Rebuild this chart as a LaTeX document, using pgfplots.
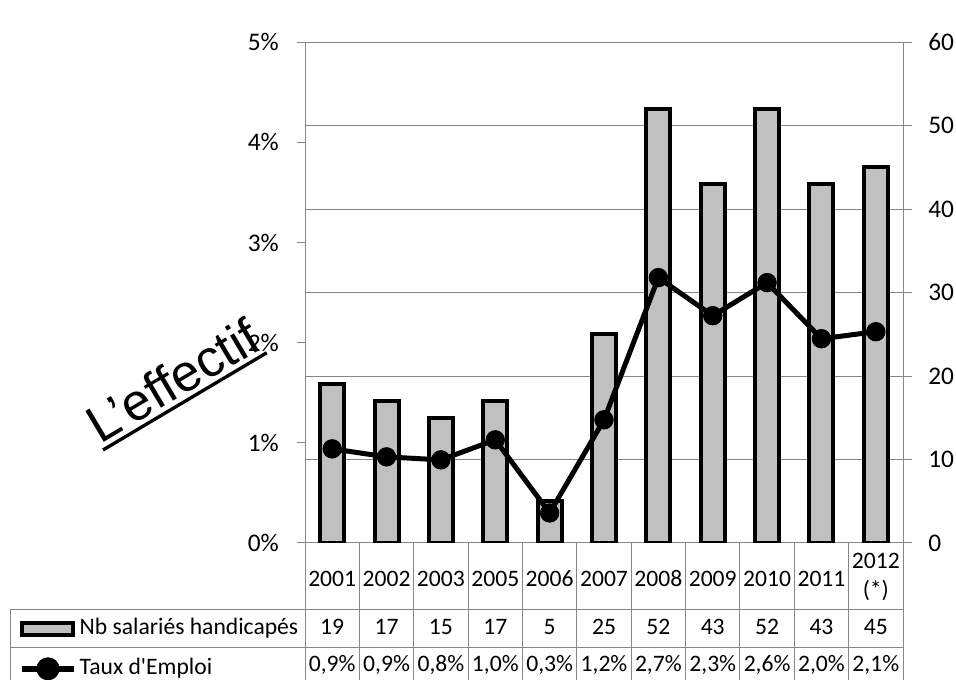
\documentclass[border=0pt]{standalone}
\usepackage{fontspec}
\setmainfont{Carlito}
\newfontfamily\arialfont{Liberation Sans}
\usepackage{pgfplots}
\usepackage{pgfplotstable}
\pgfplotsset{compat=1.18}
\usetikzlibrary{calc}
\definecolor{gridgray}{RGB}{134,134,134}
\definecolor{barfill}{RGB}{192,192,192}
\newcommand{\axisfont}{\fontsize{19pt}{23pt}\selectfont}
\newcommand{\tabfont}{\fontsize{17.7pt}{21.75pt}\selectfont}
\newcommand{\efffont}{\arialfont\fontsize{39pt}{44pt}\selectfont}

\pgfplotstableread{
x nb taux
0 19 0.94
1 17 0.86
2 15 0.83
3 17 1.03
4 5 0.30
5 25 1.23
6 52 2.65
7 43 2.27
8 52 2.60
9 43 2.04
10 45 2.11
}\datatable

\begin{document}
\begin{tikzpicture}
\path[use as bounding box, fill=white] (0,0) rectangle (717pt,510pt);
% data table grid and rows (pixel coordinates from the top left)
\begin{scope}[x=0.75pt, y=-0.75pt, yshift=510pt]
  \draw[gridgray, line width=0.75pt] (297,543) -- (912,543);
  \foreach \k in {0,...,11} {
    \draw[gridgray, line width=0.75pt] ({305+\k*54.3636},543) -- ({305+\k*54.3636},680);
  }
  \draw[gridgray, line width=0.75pt] (10,610) -- (903,610) (10,648) -- (903,648) (10,610) -- (10,680);
  \foreach \v [count=\i from 0] in {19,17,15,17,5,25,52,43,52,43,45} {
    \node[font=\tabfont, anchor=base, inner sep=0pt] at ({305+(\i+0.5)*54.3636},635) {\v};
  }
  \foreach \v [count=\i from 0] in {{0,9\%},{0,9\%},{0,8\%},{1,0\%},{0,3\%},{1,2\%},{2,7\%},{2,3\%},{2,6\%},{2,0\%},{2,1\%}} {
    \node[font=\tabfont, anchor=base, inner sep=0pt] at ({305+(\i+0.5)*54.3636},671.7) {\v};
  }
\end{scope}

% bars on the right axis
\begin{axis}[
  at={(228.75pt,102.75pt)}, anchor=south west,
  scale only axis, width=448.5pt, height=375.5pt,
  xmin=-0.5, xmax=10.5, ymin=0, ymax=60,
  axis y line*=right, axis x line*=bottom,
  x axis line style={draw=none},
  y axis line style={draw=gridgray, line width=0.75pt, -},
  xtick={0,...,10},
  xticklabels={2001,2002,2003,2005,2006,2007,2008,2009,2010,2011,{\raisebox{13.8pt}{\begin{tabular}[t]{@{}c@{}}2012\\(*)\end{tabular}}}},
  xticklabel style={font=\tabfont, anchor=base, inner sep=0pt, yshift=-26pt},
  xtick style={draw=none},
  ytick={0,10,...,60},
  yticklabels={0,10,20,30,40,50,60},
  yticklabel style={font=\axisfont, anchor=west, inner sep=0pt, xshift=12pt},
  ytick style={draw=gridgray, line width=0.75pt},
  tick align=outside, major tick length=6.75pt,
  ymajorgrids, grid style={draw=gridgray, line width=0.75pt},
]
\addplot[ybar, bar width=18pt, fill=barfill, draw=black, line width=3pt] table[x=x, y=nb]{\datatable};
\end{axis}

% line on the left axis
\begin{axis}[
  at={(228.75pt,102.75pt)}, anchor=south west,
  scale only axis, width=448.5pt, height=375.5pt,
  xmin=-0.5, xmax=10.5, ymin=0, ymax=5,
  axis y line*=left, axis x line=none,
  y axis line style={draw=gridgray, line width=0.75pt, -},
  ytick={0,...,5},
  yticklabels={0\%,1\%,2\%,3\%,4\%,5\%},
  yticklabel style={font=\axisfont, anchor=east, inner sep=0pt, xshift=-13.5pt},
  ytick style={draw=gridgray, line width=0.75pt},
  tick align=outside, major tick length=6pt,
  legend cell align=left,
  legend style={at={(axis description cs:-0.47826,-0.1544)}, anchor=north west,
    draw=none, fill=none, inner sep=0pt, outer sep=0pt,
    row sep=14.75pt, column sep=2pt, font=\tabfont,
    nodes={inner sep=0pt, text height=11pt, text depth=2pt}},
]
\addlegendimage{legend image code/.code={\draw[fill=barfill, draw=black, line width=3pt] (0pt,-4.5pt) rectangle (38.25pt,4.5pt);}}
\addlegendentry{Nb salariés handicapés}
\addplot[black, line width=3.75pt, line join=round, mark=*, mark size=7pt,
  mark options={solid, fill=black, line width=0.5pt},
  legend image code/.code={\draw[black, line width=4.5pt] (0pt,0pt) -- (39pt,0pt); \fill[black] (19.5pt,0pt) circle (6.75pt);}]
  table[x=x, y=taux]{\datatable};
\addlegendentry{Taux d\textquotesingle Emploi}
\end{axis}

\node[font=\efffont, rotate=30.7, anchor=base west, inner sep=0pt] (eff) at (75pt,176.4pt) {L’effectif};
\draw[black, line width=2.5pt] ($(eff.base west)!4.5pt!-90:(eff.base east)$) -- ($(eff.base east)!4.5pt!90:(eff.base west)$);
\end{tikzpicture}
\end{document}
